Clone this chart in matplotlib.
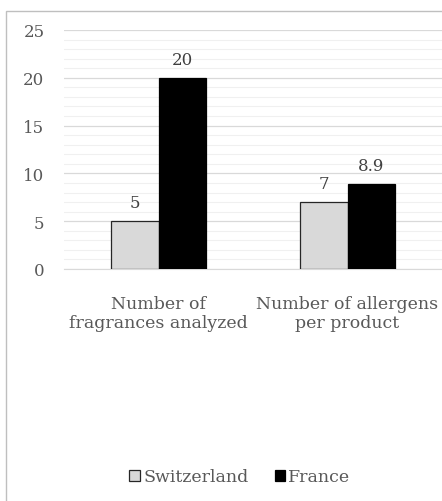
import matplotlib

matplotlib.use("Agg")
import matplotlib.pyplot as plt
import numpy as np
from matplotlib.patches import Rectangle

# data
categories = ["Number of\nfragrances analyzed", "Number of allergens\nper product"]
switzerland = [5, 7]
france = [20, 8.9]
sw_labels = ["5", "7"]
fr_labels = ["20", "8.9"]
series_names = ["Switzerland", "France"]

plt.rcParams["font.family"] = ["DejaVu Serif"]
TXT = "#595959"

fig = plt.figure(figsize=(4.42, 5.02), dpi=100)
ax = fig.add_axes([64 / 442, 1 - 270 / 502, 1 - 64 / 442, (270 - 31) / 502])

x = np.arange(len(categories))
w = 0.25
b1 = ax.bar(x - w / 2, switzerland, w, color="#d9d9d9", edgecolor="#262626", lw=0.9,
            label=series_names[0], zorder=3)
b2 = ax.bar(x + w / 2, france, w, color="#000000", edgecolor="#000000", lw=0.9,
            label=series_names[1], zorder=3)
ax.bar_label(b1, labels=sw_labels, padding=7, fontsize=12, color="#404040")
ax.bar_label(b2, labels=fr_labels, padding=7, fontsize=12, color="#404040")

ax.set_xlim(-0.5, 1.5)
ax.set_ylim(0, 25)
ax.set_yticks(np.arange(0, 26, 5))
ax.set_yticks(np.arange(0, 26, 1), minor=True)
ax.grid(True, axis="y", which="major", color="#d9d9d9", lw=0.9, zorder=0)
ax.grid(True, axis="y", which="minor", color="#f0f0f0", lw=0.8, zorder=0)
ax.set_xticks(x)
ax.set_xticklabels(categories, fontsize=12.5, color=TXT, linespacing=1.1)
ax.tick_params(axis="x", length=0, pad=19)
ax.tick_params(axis="y", which="both", length=0, pad=14, labelsize=12, labelcolor=TXT)
for s in ["top", "right", "left"]:
    ax.spines[s].set_visible(False)
ax.spines["bottom"].set_color("#d9d9d9")

# chart frame (partially cropped in the reference)
fig.add_artist(Rectangle((6 / 442, -0.1), 1.2, 1 - 12 / 502 + 0.1, transform=fig.transFigure,
                         fill=False, edgecolor="#bfbfbf", lw=1.0))

fig.legend(handles=[b1, b2], loc="center", bbox_to_anchor=(240 / 442, 1 - 478 / 502),
           ncol=2, frameon=False, fontsize=12.5, labelcolor=TXT, handlelength=0.6,
           handleheight=0.6, handletextpad=0.2, columnspacing=1.5)

fig.savefig("out.png", dpi=100)
